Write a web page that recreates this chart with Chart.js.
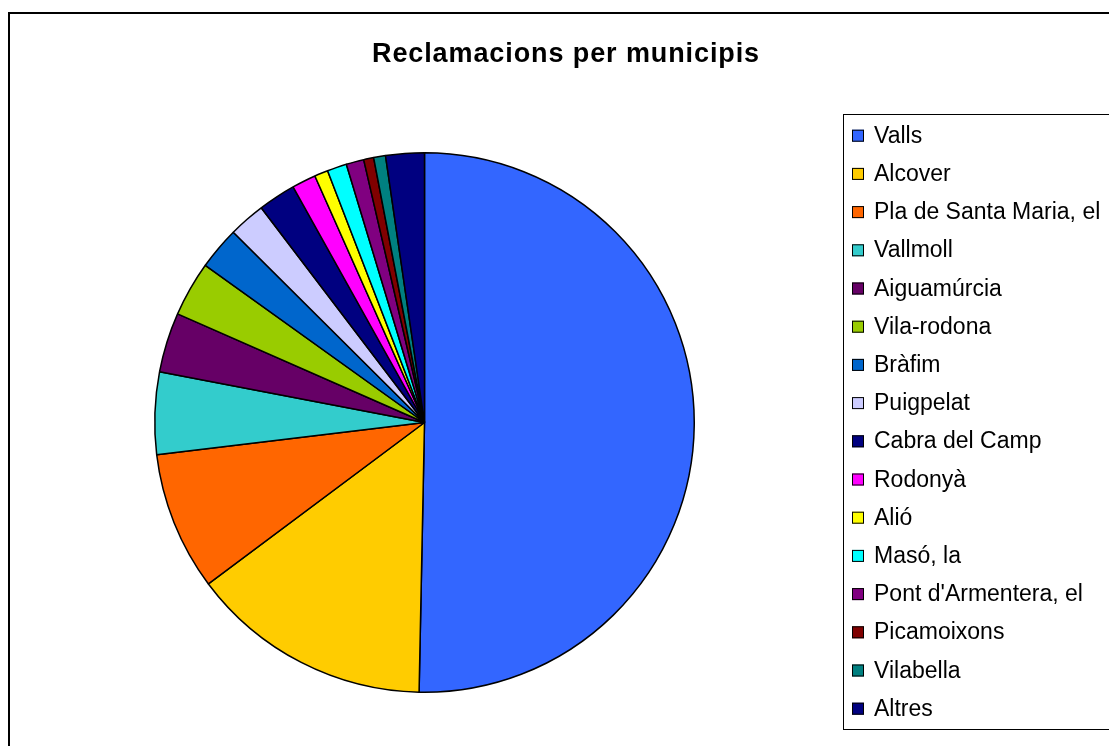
<!DOCTYPE html>
<html>
<head>
<meta charset="utf-8">
<script src="https://cdn.jsdelivr.net/npm/chart.js@4/dist/chart.umd.min.js"></script>
<style>
    html, body { margin: 0; padding: 0; background: #ffffff; }
    #wrap { width: 1109px; height: 746px; position: relative; }
</style>
</head>
<body>
<div id="wrap"><canvas id="pieChart" width="1109" height="746"></canvas></div>
<script>
// Chart data
const chartTitle = 'Reclamacions per municipis';

const municipis = [
    'Valls', 'Alcover', 'Pla de Santa Maria, el', 'Vallmoll', 'Aiguamúrcia',
    'Vila-rodona', 'Bràfim', 'Puigpelat', 'Cabra del Camp', 'Rodonyà',
    'Alió', 'Masó, la', "Pont d'Armentera, el", 'Picamoixons', 'Vilabella', 'Altres'
];

// Share of complaints (%)
const reclamacions = [
    50.33, 14.47, 8.31, 4.92, 3.58,
    3.31, 2.56, 2.19, 2.25, 1.44,
    0.81, 1.17, 1.06, 0.60, 0.71, 2.31
];

const colors = [
    '#3366FF', '#FFCC00', '#FF6600', '#33CCCC', '#660066',
    '#99CC00', '#0066CC', '#CCCCFF', '#000080', '#FF00FF',
    '#FFFF00', '#00FFFF', '#800080', '#800000', '#008080', '#000080'
];

// Frame, title and legend drawn around the pie
const framePlugin = {
    id: 'frame',
    afterDraw(chart) {
        const ctx = chart.ctx;
        ctx.save();

        // outer border
        ctx.strokeStyle = '#000000';
        ctx.lineWidth = 2;
        ctx.strokeRect(9, 13, 1200, 800);

        // title
        ctx.fillStyle = '#000000';
        ctx.font = 'bold 27px "Liberation Sans", Arial, sans-serif';
        ctx.textAlign = 'center';
        ctx.textBaseline = 'alphabetic';
        if ('letterSpacing' in ctx) ctx.letterSpacing = '0.9px';
        ctx.fillText(chartTitle, 566, 62);
        if ('letterSpacing' in ctx) ctx.letterSpacing = '0px';

        // legend box
        ctx.lineWidth = 1;
        ctx.strokeRect(843.5, 114.5, 400, 615);

        // legend items
        const labels = chart.data.labels;
        const bg = chart.data.datasets[0].backgroundColor;
        ctx.font = '23px "Liberation Sans", Arial, sans-serif';
        ctx.textAlign = 'left';
        labels.forEach((label, i) => {
            const base = 142.7 + i * 38.2;
            ctx.fillStyle = bg[i];
            ctx.fillRect(852, base - 13, 12, 12);
            ctx.strokeStyle = '#000000';
            ctx.lineWidth = 1;
            ctx.strokeRect(852.5, base - 12.5, 11, 11);
            ctx.fillStyle = '#000000';
            ctx.fillText(label, 874, base);
        });

        ctx.restore();
    }
};

const data = {
    labels: municipis,
    datasets: [{
        data: reclamacions,
        backgroundColor: colors,
        borderColor: '#000000',
        borderWidth: 1.5,
        hoverOffset: 0,
        offset: 0
    }]
};

const options = {
    responsive: false,
    animation: false,
    events: [],
    layout: {
        padding: { left: 154, right: 414, top: 152, bottom: 53 }
    },
    plugins: {
        legend: { display: false },
        title: { display: false },
        tooltip: { enabled: false }
    }
};

new Chart(document.getElementById('pieChart').getContext('2d'), {
    type: 'pie',
    data: data,
    options: options,
    plugins: [framePlugin]
});
</script>
</body>
</html>
